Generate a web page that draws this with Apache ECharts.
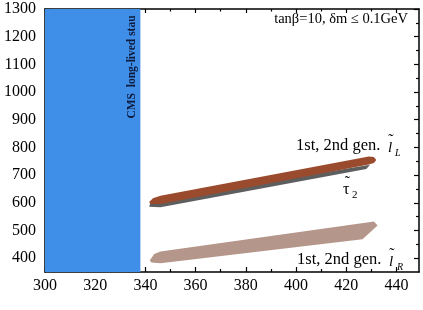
<!DOCTYPE html>
<html><head><meta charset="utf-8">
<script src="https://cdn.jsdelivr.net/npm/echarts@6/dist/echarts.min.js"></script>
<style>html,body{margin:0;padding:0;background:#fff}#c{width:423px;height:310px}</style>
</head><body><div id="c"></div>
<script>
// axis ranges and ticks
const xRange = [300, 449];
const yRange = [350, 1300];
const xTicks = [300, 320, 340, 360, 380, 400, 420, 440];
const xMinorTicks = [310, 330, 350, 370, 390, 410, 430];
const yTicks = [400, 500, 600, 700, 800, 900, 1000, 1100, 1200, 1300];
const yMinorTicks = [450, 550, 650, 750, 850, 950, 1050, 1150, 1250];

// CMS long-lived stau excluded region (x range)
const cmsRegion = [300, 338];

// band outlines (x, y in GeV)
const lLx = [341.5, 343, 346, 429, 431, 432, 431, 429, 346, 342];
const lLy = [603, 616, 625, 767, 765, 755, 744, 738, 596, 596];

const tau2x = [341.5, 346, 428, 429.5, 346, 342];
const tau2y = [586, 584, 722, 737, 612, 600];

const lRx = [342, 343.5, 346, 429, 431, 432.5, 426.5, 346, 342.5, 341.8];
const lRy = [395, 415, 424, 530, 532, 518, 468, 382, 384, 390];

const FONT = '"Liberation Serif", "Times New Roman", serif';

function polySeries(name, xs, ys, color, z) {
  return {
    type: 'custom', name: name, xAxisIndex: 0, yAxisIndex: 0, z: z,
    data: xs.map((x, i) => [x, ys[i]]),
    renderItem: function (params, api) {
      if (params.dataIndex !== 0) return;
      const pts = xs.map((x, i) => api.coord([x, ys[i]]));
      return { type: 'polygon', shape: { points: pts }, style: { fill: color } };
    },
    silent: true
  };
}

function xAxis(pos, ticks, len, withLine, withLabels) {
  return {
    type: 'value', position: pos, min: xRange[0], max: xRange[1],
    axisLine: { show: withLine, onZero: false, lineStyle: { color: '#000', width: 1.5 } },
    axisTick: { show: true, inside: true, length: len, customValues: ticks, lineStyle: { color: '#000', width: 1.2 } },
    axisLabel: withLabels ? { show: true, customValues: ticks, formatter: v => String(v), color: '#000', fontFamily: FONT, fontSize: 16, margin: 6 } : { show: false },
    splitLine: { show: false }
  };
}
function yAxis(pos, ticks, len, withLine, withLabels) {
  return {
    type: 'value', position: pos, min: yRange[0], max: yRange[1],
    axisLine: { show: withLine, onZero: false, lineStyle: { color: '#000', width: 1.5 } },
    axisTick: { show: true, inside: true, length: len, customValues: ticks, lineStyle: { color: '#000', width: 1.2 } },
    axisLabel: withLabels ? { show: true, customValues: ticks, formatter: v => String(v), color: '#000', fontFamily: FONT, fontSize: 16, margin: 9 } : { show: false },
    splitLine: { show: false }
  };
}

function txt(x, y, text, font, align) {
  return { type: 'text', z: 10, style: { x: x, y: y, text: text, font: font + FONT, fill: '#000', align: align || 'left', verticalAlign: 'middle' } };
}

const chart = echarts.init(document.getElementById('c'), null, { renderer: 'canvas' });
chart.setOption({
  animation: false,
  backgroundColor: '#fff',
  grid: { left: 45, right: 4, top: 9, bottom: 38, containLabel: false, outerBoundsMode: 'none' },
  xAxis: [
    xAxis('bottom', xTicks, 5, true, true),
    xAxis('bottom', xMinorTicks, 3, false, false),
    xAxis('top', xTicks, 4, true, false),
    xAxis('top', xMinorTicks, 2.5, false, false)
  ],
  yAxis: [
    yAxis('left', yTicks, 5, true, true),
    yAxis('left', yMinorTicks, 3, false, false),
    yAxis('right', yTicks, 5, true, false),
    yAxis('right', yMinorTicks, 3, false, false)
  ],
  series: [
    {
      type: 'custom', name: 'CMS', xAxisIndex: 0, yAxisIndex: 0, z: 1, silent: true,
      data: [[cmsRegion[0], cmsRegion[1]]],
      renderItem: function (params, api) {
        const p0 = api.coord([api.value(0), yRange[1]]);
        const p1 = api.coord([api.value(1), yRange[0]]);
        return { type: 'rect', shape: { x: p0[0], y: p0[1], width: p1[0] - p0[0], height: p1[1] - p0[1] }, style: { fill: '#3f8fe9' } };
      }
    },
    polySeries('lR', lRx, lRy, '#b5968a', 2),
    polySeries('tau2', tau2x, tau2y, '#5e5e5e', 3),
    polySeries('lL', lLx, lLy, '#9b4b2d', 4)
  ],
  graphic: [
    { type: 'text', z: 10, rotation: Math.PI / 2, x: 132, y: 67,
      style: { text: 'CMS  long-lived stau', font: 'bold 11.5px ' + FONT, fill: '#0d1b3e', align: 'center', verticalAlign: 'middle' } },
    txt(408, 19, 'tanβ=10, δm ≤ 0.1GeV', '14.5px ', 'right'),
    // upper label
    txt(296, 146, '1st, 2nd gen.', '16.5px '),
    txt(388, 148, 'l', 'italic 15px '),
    txt(391, 141, '\u02DC', '16px ', 'center'),
    txt(395, 153, 'L', 'italic 10px '),
    // tau2 label
    txt(343, 190, 'τ', '16px '),
    txt(347.5, 183, '\u02DC', '16px ', 'center'),
    txt(352, 195, '2', '11px '),
    // lower label
    txt(297, 260, '1st, 2nd gen.', '16.5px '),
    txt(389, 262, 'l', 'italic 15px '),
    txt(392, 255, '\u02DC', '16px ', 'center'),
    txt(397, 267, 'R', 'italic 10px ')
  ]
});
</script>
</body></html>
